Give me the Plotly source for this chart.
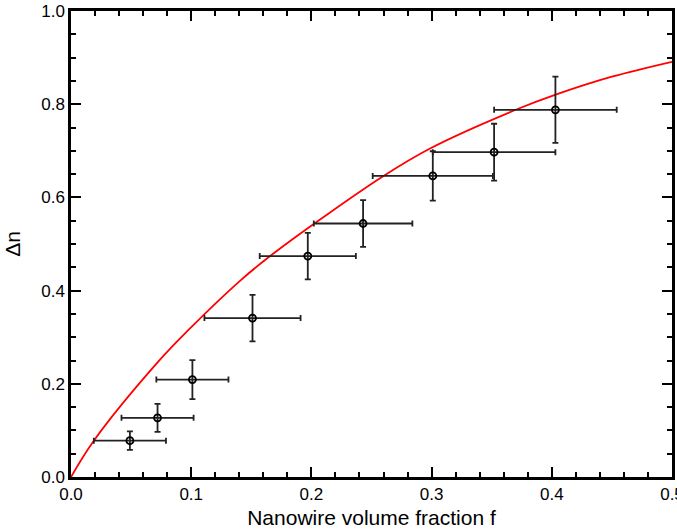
import plotly.graph_objects as go

# measured data
f_data = [0.049, 0.072, 0.101, 0.151, 0.197, 0.243, 0.301, 0.352, 0.403]
dn_data = [0.078, 0.127, 0.209, 0.341, 0.474, 0.544, 0.646, 0.697, 0.788]
f_err = [0.030, 0.030, 0.030, 0.040, 0.040, 0.041, 0.050, 0.051, 0.051]
dn_err = [0.020, 0.030, 0.042, 0.050, 0.050, 0.050, 0.053, 0.061, 0.071]

# model curve
f_curve = [0.0, 0.019, 0.0724, 0.0977, 0.1406, 0.1646, 0.2025, 0.2587, 0.2983, 0.370, 0.4038, 0.450, 0.500]
dn_curve = [0.0, 0.078, 0.247, 0.3155, 0.421, 0.472, 0.544, 0.644, 0.7045, 0.788, 0.821, 0.859, 0.891]

fig = go.Figure()
fig.add_trace(go.Scatter(
    x=f_curve, y=dn_curve, mode="lines",
    line=dict(color="#ff0000", width=1.8, shape="spline", smoothing=1.0),
    showlegend=False, hoverinfo="skip"))
fig.add_trace(go.Scatter(
    x=f_data, y=dn_data, mode="markers",
    marker=dict(symbol="circle-open", size=7, color="black", line=dict(width=1.8, color="black")),
    error_x=dict(type="data", array=f_err, color="#222222", thickness=1.8, width=3),
    error_y=dict(type="data", array=dn_err, color="#222222", thickness=1.8, width=3),
    showlegend=False))

font = "Liberation Sans, Arial, Helvetica, sans-serif"
axis_common = dict(
    showgrid=False, zeroline=False, showline=True, linecolor="black", linewidth=2.5,
    mirror="allticks", ticks="inside", ticklen=10, tickwidth=2, tickcolor="black",
    tickfont=dict(size=17), automargin=False, tickformat=".1f", tick0=0,
    ticklabeloverflow="allow",
)
fig.update_layout(
    width=677, height=530,
    margin=dict(l=71, r=5, t=11, b=53),
    plot_bgcolor="white", paper_bgcolor="white",
    font=dict(family=font, color="black"),
    xaxis=dict(range=[0, 0.5], dtick=0.1,
               minor=dict(ticks="inside", ticklen=5, tickwidth=1.5, dtick=0.02, tickcolor="black", showgrid=False),
               title=dict(text="Nanowire volume fraction f", font=dict(size=21), standoff=8),
               **axis_common),
    yaxis=dict(range=[0, 1.0], dtick=0.2,
               minor=dict(ticks="inside", ticklen=5, tickwidth=1.5, dtick=0.05, tickcolor="black", showgrid=False),
               title=dict(text="Δn", font=dict(size=21), standoff=15),
               **axis_common),
)
fig.write_html("out.html", config={"displayModeBar": False},
               post_script="document.body.style.margin='0';document.body.style.overflow='hidden';")
